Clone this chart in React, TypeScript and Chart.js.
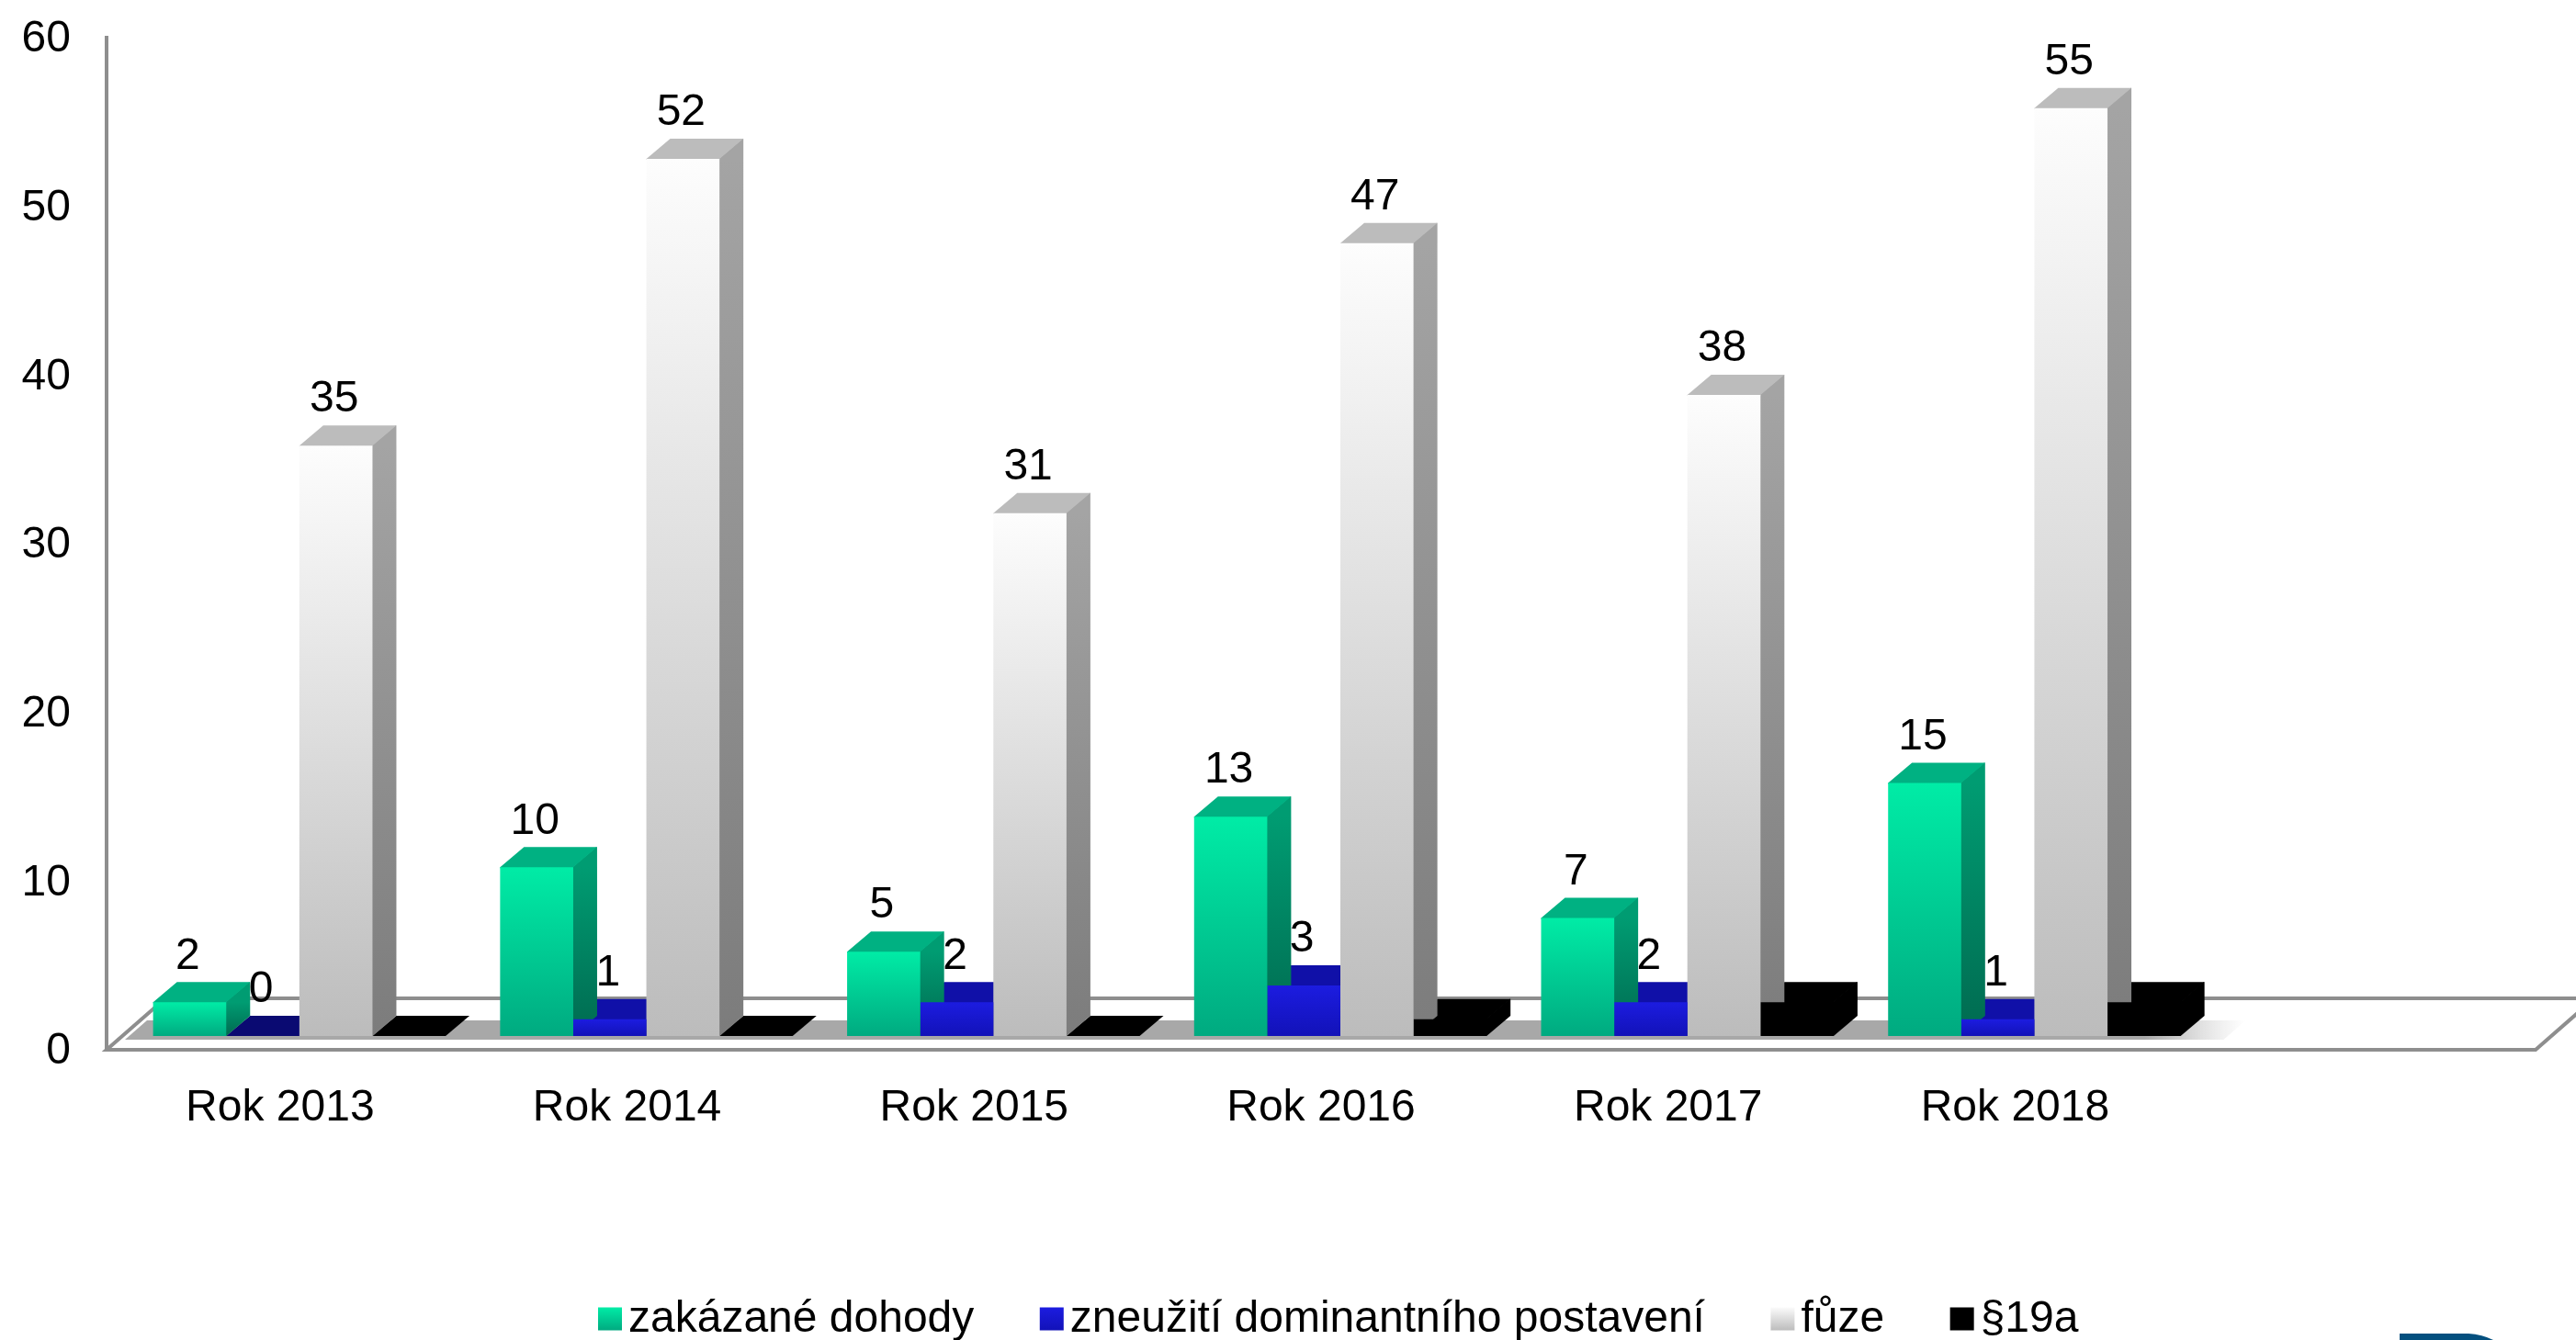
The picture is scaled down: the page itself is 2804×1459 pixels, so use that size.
import React, { useEffect, useRef } from "react";
import { Chart, registerables } from "chart.js";

Chart.register(...registerables);

const categories = ["Rok 2013", "Rok 2014", "Rok 2015", "Rok 2016", "Rok 2017", "Rok 2018", ""];
const seriesNames = ["zakázané dohody", "zneužití dominantního postavení", "fůze", "§19a"];
const dohody = [2, 10, 5, 13, 7, 15];
const zneuziti = [0, 1, 2, 3, 2, 1];
const fuze = [35, 52, 31, 47, 38, 55];
const par19a = [0, 0, 0, 1, 2, 2];

const FONT = '"Liberation Sans", Arial, sans-serif';
const FONT_SIZE = 48;
const SHIFT_X = 21; // front plane of the bars relative to the axis
const SHIFT_Y = -15;
const DEPTH_X = 26;
const DEPTH_Y = 22;

const looks = [
  { front: ["#00eca6", "#00aa80"], side: ["#009c72", "#006a50"], top: "#00b182", zero: "#00b182", label: true, swatch: ["#00eca6", "#00aa80"] },
  { front: ["#1c1ce0", "#1212b8"], side: ["#10109c", "#0c0c80"], top: "#1010a8", zero: "#0a0a72", label: true, swatch: ["#1c1ce0", "#1212b8"] },
  { front: ["#fdfdfd", "#bcbcbc"], side: ["#a4a4a4", "#7c7c7c"], top: "#bcbcbc", zero: "#bcbcbc", label: true, swatch: ["#fbfbfb", "#bcbcbc"] },
  { front: ["#000000", "#000000"], side: ["#000000", "#000000"], top: "#000000", zero: "#000000", label: false, swatch: ["#000000", "#000000"] },
];

function frontFill(ctx: any) {
  const chart = ctx.chart;
  const look = looks[ctx.datasetIndex];
  const y = chart.scales?.y;
  if (!y || ctx.dataIndex === undefined) return look.front[0];
  const value = chart.data.datasets[ctx.datasetIndex].data[ctx.dataIndex];
  const y0 = y.getPixelForValue(value);
  const y1 = y.getPixelForValue(0);
  if (!Number.isFinite(y0) || !Number.isFinite(y1)) return look.front[0];
  const g = chart.ctx.createLinearGradient(0, y0, 0, y1);
  g.addColorStop(0, look.front[0]);
  g.addColorStop(1, look.front[1]);
  return g;
}

const stagePlugin = {
  id: "stage",
  beforeDatasetsDraw(chart: any) {
    const { ctx, chartArea: a } = chart;
    const line = "#8e8e8e";
    const backY = a.bottom - 56;
    const backDx = 64;
    ctx.save();
    // shadow band on the floor
    const shadowRight = chart.scales.x.getPixelForValue(5) + 190 + SHIFT_X;
    const bandTop = a.bottom - 32;
    const bandBottom = a.bottom - 11;
    const shade = ctx.createLinearGradient(shadowRight - 70, 0, shadowRight + 40, 0);
    shade.addColorStop(0, "#a8a8a8");
    shade.addColorStop(1, "rgba(200,200,200,0)");
    ctx.fillStyle = shade;
    ctx.beginPath();
    ctx.moveTo(a.left + 44, bandTop);
    ctx.lineTo(shadowRight + 40, bandTop);
    ctx.lineTo(shadowRight + 16, bandBottom);
    ctx.lineTo(a.left + 20, bandBottom);
    ctx.closePath();
    ctx.fill();
    // floor outline
    ctx.strokeStyle = line;
    ctx.lineWidth = 4;
    ctx.beginPath();
    ctx.moveTo(a.left + backDx, backY);
    ctx.lineTo(a.right + backDx, backY);
    ctx.moveTo(a.left + backDx, backY);
    ctx.lineTo(a.left, a.bottom);
    ctx.lineTo(a.right, a.bottom);
    ctx.lineTo(a.right + backDx, backY);
    ctx.stroke();
    // value wall edge
    ctx.beginPath();
    ctx.moveTo(a.left, a.top - 2);
    ctx.lineTo(a.left, a.bottom + 2);
    ctx.stroke();
    ctx.restore();
    // everything in the dataset pass sits on the floor's front plane
    ctx.save();
    ctx.translate(SHIFT_X, SHIFT_Y);
    // all top and side faces go first, last series underneath, so every front face stays whole
    for (let i = chart.data.datasets.length - 1; i >= 0; i--) {
      const look = looks[i];
      chart.getDatasetMeta(i).data.forEach((el: any) => {
        const { x, y, base, width } = el.getProps(["x", "y", "base", "width"], true);
        const l = x - width / 2;
        const r = x + width / 2;
        const solid = base - y > 0.5;
        if (solid) {
          const g = ctx.createLinearGradient(0, y, 0, base);
          g.addColorStop(0, look.side[0]);
          g.addColorStop(1, look.side[1]);
          ctx.fillStyle = g;
          ctx.beginPath();
          ctx.moveTo(r - 1, y);
          ctx.lineTo(r + DEPTH_X - 1, y - DEPTH_Y);
          ctx.lineTo(r + DEPTH_X, y - DEPTH_Y);
          ctx.lineTo(r + DEPTH_X, base - DEPTH_Y);
          ctx.lineTo(r, base);
          ctx.lineTo(r - 1, base);
          ctx.closePath();
          ctx.fill();
        }
        ctx.fillStyle = solid ? look.top : look.zero;
        const lip = solid ? 1 : 0; // tucked under the front face so no seam shows
        ctx.beginPath();
        ctx.moveTo(l, y + lip);
        ctx.lineTo(l, y);
        ctx.lineTo(l + DEPTH_X, y - DEPTH_Y);
        ctx.lineTo(r + DEPTH_X, y - DEPTH_Y);
        ctx.lineTo(r, y);
        ctx.lineTo(r, y + lip);
        ctx.closePath();
        ctx.fill();
      });
    }
  },
  afterDatasetsDraw(chart: any) {
    const { ctx } = chart;
    ctx.restore();
    ctx.save();
    ctx.font = `${FONT_SIZE}px ${FONT}`;
    ctx.fillStyle = "#000";
    ctx.textAlign = "center";
    ctx.textBaseline = "middle";
    chart.data.datasets.forEach((ds: any, i: number) => {
      if (!looks[i].label) return;
      chart.getDatasetMeta(i).data.forEach((el: any, j: number) => {
        ctx.fillText(String(ds.data[j]), el.x + SHIFT_X - 2, el.y + SHIFT_Y - 50);
      });
    });
    ctx.restore();
  },
  afterDraw(chart: any) {
    const { ctx } = chart;
    ctx.save();
    // legend row
    const boxW = 26;
    const boxH = 25;
    const gap = 7;
    const spacing = 71.5;
    const centerY = 1436;
    ctx.font = `${FONT_SIZE}px ${FONT}`;
    ctx.textBaseline = "middle";
    ctx.textAlign = "left";
    let x = 651;
    seriesNames.forEach((name, i) => {
      const g = ctx.createLinearGradient(0, centerY - boxH / 2, 0, centerY + boxH / 2);
      g.addColorStop(0, looks[i].swatch[0]);
      g.addColorStop(1, looks[i].swatch[1]);
      ctx.fillStyle = g;
      ctx.fillRect(x, centerY - boxH / 2, boxW, boxH);
      ctx.fillStyle = "#000";
      ctx.fillText(name, x + boxW + gap, centerY + 1);
      x += boxW + gap + ctx.measureText(name).width + spacing;
    });
    // top edge of the cropped logo in the corner
    ctx.fillStyle = "#04507f";
    ctx.beginPath();
    ctx.moveTo(2612, 1459);
    ctx.lineTo(2612, 1452);
    ctx.lineTo(2687, 1452);
    ctx.quadraticCurveTo(2702, 1453, 2714, 1459);
    ctx.closePath();
    ctx.fill();
    ctx.restore();
  },
};

export default function App() {
  const ref = useRef<HTMLCanvasElement | null>(null);
  useEffect(() => {
    document.body.style.margin = "0";
    const values = [dohody, zneuziti, fuze, par19a];
    const chart = new Chart(ref.current as HTMLCanvasElement, {
      type: "bar",
      data: {
        labels: categories,
        datasets: seriesNames.map((label, i) => ({
          label,
          data: values[i],
          backgroundColor: frontFill,
          borderWidth: 0,
          categoryPercentage: 0.843,
          barPercentage: 1,
        })),
      },
      plugins: [stagePlugin],
      options: {
        responsive: false,
        animation: false,
        events: [],
        clip: false,
        layout: { padding: { top: 41, right: 44, left: 0, bottom: 0 } },
        plugins: { legend: { display: false }, tooltip: { enabled: false }, title: { display: false } },
        scales: {
          x: {
            grid: { display: false, drawTicks: false },
            border: { display: false },
            ticks: {
              autoSkip: false,
              maxRotation: 0,
              padding: 35,
              color: "#000",
              font: { family: FONT, size: FONT_SIZE },
            },
            afterFit(scale: any) {
              scale.height = 316;
            },
          },
          y: {
            min: 0,
            max: 60,
            grid: { display: false, drawTicks: false },
            border: { display: false },
            ticks: {
              stepSize: 10,
              padding: 39,
              labelOffset: 2,
              color: "#000",
              font: { family: FONT, size: FONT_SIZE },
            },
            afterFit(scale: any) {
              scale.width = 116;
              scale.paddingTop = 0;
              scale.paddingBottom = 0;
            },
          },
        },
      } as any,
    });
    return () => chart.destroy();
  }, []);
  return (
    <div style={{ position: "absolute", left: 0, top: 0, width: 2804, height: 1459, background: "#fff", overflow: "hidden" }}>
      <canvas ref={ref} width={2804} height={1459} style={{ display: "block" }} />
    </div>
  );
}
